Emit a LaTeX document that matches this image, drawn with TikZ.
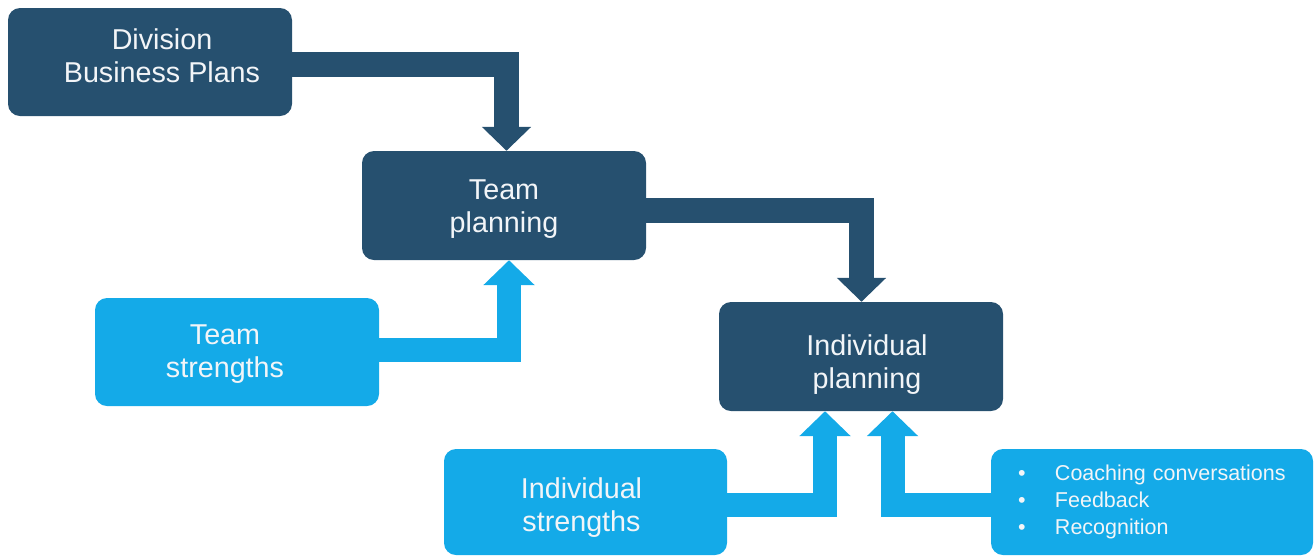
\documentclass[tikz,border=0pt]{standalone}
\usepackage{fontspec}
\setmainfont{Liberation Sans}
\usetikzlibrary{arrows.meta}
\definecolor{darkbox}{HTML}{26506F}
\definecolor{lightbox}{HTML}{14AAE8}
\definecolor{boxtext}{HTML}{F2F5F8}
\tikzset{
  box/.style={rounded corners=12pt, minimum width=284pt, minimum height=108pt,
    inner sep=0pt},
  darkbox/.style={box, fill=darkbox},
  lightbox/.style={box, fill=lightbox},
  boxlabel/.style={inner sep=0pt, align=center, text=boxtext,
    font=\fontsize{28.7}{33}\selectfont},
  darr/.style={draw=darkbox, line width=25pt, line join=miter,
    -{Triangle[width=48pt,length=24pt]}},
  larr/.style={draw=lightbox, line width=24pt, line join=miter,
    -{Triangle[width=50pt,length=25pt]}},
}
\begin{document}
\begin{tikzpicture}[x=1pt,y=-1pt]
\useasboundingbox (0,0) rectangle (1315,558);
\node[darkbox] (div) at (150,62) {};
\node[boxlabel] (divtext) at ([shift={(12,-6)}]div.center) {Division\\Business Plans};
\node[darkbox, minimum height=109pt] (team) at (504,205.5) {};
\node[boxlabel] (teamtext) at ([shift={(0,4)}]team.center) {Team\\planning};
\node[lightbox] (tstr) at (237,352) {};
\node[boxlabel] (tstrtext) at ([shift={(-12,2)}]tstr.center) {Team\\strengths};
\node[darkbox, minimum height=109pt] (ind) at (861,356.5) {};
\node[boxlabel] (indtext) at ([shift={(6,8)}]ind.center) {Individual\\planning};
\node[lightbox, minimum height=106pt, minimum width=283pt] (istr) at (585.5,502) {};
\node[boxlabel] (istrtext) at ([shift={(-4,6)}]istr.center) {Individual\\strengths};
\node[lightbox, minimum width=322pt, minimum height=106pt, text width=268pt,
  align=left, text=boxtext, font=\fontsize{21.5}{27}\selectfont] (bul) at (1152,502)
  {\makebox[37pt][l]{•}Coaching conversations\\
   \makebox[37pt][l]{•}Feedback\\
   \makebox[37pt][l]{•}Recognition};
\draw[darr] ([yshift=-2pt]div.east) -| ([xshift=2.5pt]team.north);
\draw[darr] ([yshift=-5pt]team.east) -| ([xshift=0.5pt]ind.north);
\draw[larr] ([yshift=2pt]tstr.east) -| ([xshift=5pt]team.south);
\draw[larr] ([yshift=-3pt]istr.east) -| ([xshift=-36pt]ind.south);
\draw[larr] ([yshift=-3pt]bul.west) -| ([xshift=31.5pt]ind.south);
\end{tikzpicture}
\end{document}
